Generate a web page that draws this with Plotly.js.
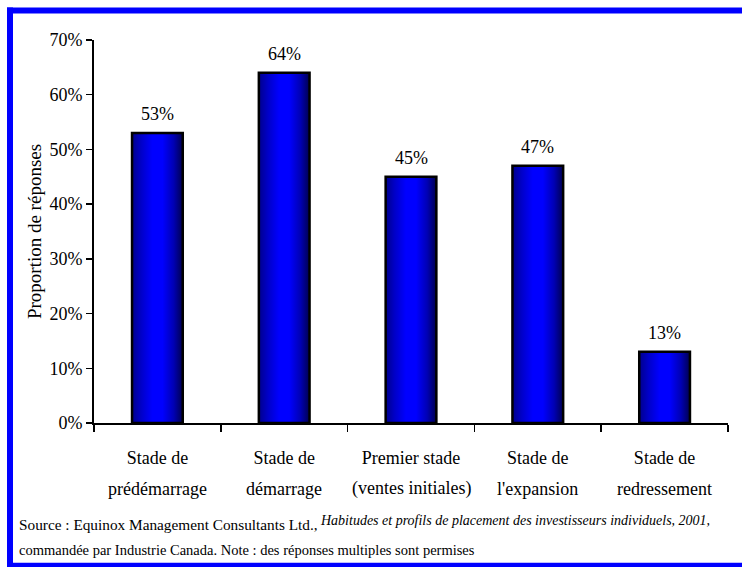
<!DOCTYPE html>
<html>
<head>
<meta charset="utf-8">
<script src="https://cdn.plot.ly/plotly-3.0.1.min.js"></script>
<style>
  html, body { margin: 0; padding: 0; background: #ffffff; overflow: hidden; }
  #chart { width: 742px; height: 567px; }
</style>
</head>
<body>
<div id="chart"></div>
<script>
// ---- data ----
const categories = ["s1", "s2", "s3", "s4", "s5"];
const labelLine1 = ["Stade de", "Stade de", "Premier stade", "Stade de", "Stade de"];
const labelLine2 = ["prédémarrage", "démarrage", "(ventes initiales)", "l'expansion", "redressement"];
const values = [0.53, 0.64, 0.45, 0.47, 0.13];
const yTickValues = [0, 0.1, 0.2, 0.3, 0.4, 0.5, 0.6, 0.7];
const yTickLabels = ["0%", "10%", "20%", "30%", "40%", "50%", "60%", "70%"];
const yTitle = "Proportion de réponses";
const sourceText = "Source : Equinox Management Consultants Ltd.,";
const sourceItalic = "Habitudes et profils de placement des investisseurs individuels, 2001,";
const sourceLine2 = "commandée par Industrie Canada. Note : des réponses multiples sont permises";

// ---- layout geometry (pixels) ----
const W = 742, H = 567;
const M = { l: 94, r: 14, t: 39.5, b: 144 };
const pw = W - M.l - M.r, ph = H - M.t - M.b;
const px = x => (x - M.l) / pw;          // pixel -> paper x
const py = y => (H - M.b - y) / ph;      // pixel -> paper y

const FONT = "'Liberation Serif', 'Times New Roman', 'DejaVu Serif', serif";
const BLUE = "#0000FF";

const trace = {
  type: "bar",
  x: categories,
  y: values,
  marker: { color: BLUE, line: { color: "#000000", width: 2.5 } },
  hoverinfo: "skip",
  cliponaxis: false
};

const valueAnnotations = categories.map((c, i) => ({
  x: c, y: values[i], xref: "x", yref: "y",
  text: Math.round(values[i] * 100) + "%",
  showarrow: false, yanchor: "bottom", yshift: 7,
  font: { family: FONT, size: 18, color: "#000" }
}));

const line2Annotations = categories.map((c, i) => ({
  x: c, y: py(489), xref: "x", yref: "paper",
  text: labelLine2[i],
  showarrow: false, yanchor: "middle",
  font: { family: FONT, size: 18, color: "#000" }
}));

const frameLine = { color: BLUE, width: 6 };

const layout = {
  width: W, height: H,
  margin: M,
  paper_bgcolor: "#ffffff",
  plot_bgcolor: "#ffffff",
  showlegend: false,
  bargap: 0.6,
  font: { family: FONT, size: 18, color: "#000" },
  xaxis: {
    type: "category",
    tickvals: categories,
    ticktext: labelLine1,
    tickangle: 0,
    tickson: "boundaries",
    ticks: "outside", ticklen: 7, tickwidth: 1.5, tickcolor: "#000",
    showline: true, linecolor: "#000", linewidth: 2,
    showgrid: false, zeroline: false,
    ticklabelstandoff: 17,
    tickfont: { family: FONT, size: 18, color: "#000" },
    fixedrange: true
  },
  yaxis: {
    range: [0, 0.7],
    tickvals: yTickValues,
    ticktext: yTickLabels,
    ticks: "outside", ticklen: 6, tickwidth: 1.5, tickcolor: "#000",
    showline: true, linecolor: "#000", linewidth: 2,
    showgrid: false, zeroline: false,
    ticklabelstandoff: 0,
    tickfont: { family: FONT, size: 18, color: "#000" },
    title: { text: yTitle, font: { family: FONT, size: 19, color: "#000" }, standoff: 3 },
    fixedrange: true
  },
  annotations: valueAnnotations.concat(line2Annotations, [
    { xref: "paper", yref: "paper", x: px(17), y: py(525), xanchor: "left", yanchor: "middle",
      text: sourceText, showarrow: false, font: { family: FONT, size: 15.3, color: "#000" } },
    { xref: "paper", yref: "paper", x: px(318), y: py(521), xanchor: "left", yanchor: "middle",
      text: "<i>" + sourceItalic + "</i>", showarrow: false, font: { family: FONT, size: 14, color: "#000" } },
    { xref: "paper", yref: "paper", x: px(17), y: py(550), xanchor: "left", yanchor: "middle",
      text: sourceLine2, showarrow: false, font: { family: FONT, size: 14.5, color: "#000" } }
  ]),
  shapes: [
    { type: "line", xref: "paper", yref: "paper", layer: "below",
      x0: px(7), x1: px(742), y0: py(10), y1: py(10), line: frameLine },
    { type: "line", xref: "paper", yref: "paper", layer: "below",
      x0: px(10), x1: px(10), y0: py(7), y1: py(569), line: frameLine },
    { type: "line", xref: "paper", yref: "paper", layer: "below",
      x0: px(7), x1: px(742), y0: py(566), y1: py(566), line: frameLine }
  ]
};

Plotly.newPlot("chart", [trace], layout, { displayModeBar: false, staticPlot: true }).then(gd => {
  const svg = gd.querySelector("svg.main-svg");
  const ns = "http://www.w3.org/2000/svg";
  let defs = svg.querySelector("defs");
  if (!defs) { defs = document.createElementNS(ns, "defs"); svg.insertBefore(defs, svg.firstChild); }
  const grad = document.createElementNS(ns, "linearGradient");
  grad.setAttribute("id", "barGrad");
  grad.setAttribute("x1", "0"); grad.setAttribute("y1", "0");
  grad.setAttribute("x2", "1"); grad.setAttribute("y2", "0");
  [[0, "#00008C"], [0.18, "#0000C8"], [0.4, "#0000FF"], [0.6, "#0000FF"], [0.82, "#0000B4"], [1, "#000050"]]
    .forEach(([o, c]) => {
      const s = document.createElementNS(ns, "stop");
      s.setAttribute("offset", o); s.setAttribute("stop-color", c);
      grad.appendChild(s);
    });
  defs.appendChild(grad);
  gd.querySelectorAll(".trace.bars .point path").forEach(p => { p.style.fill = "url(#barGrad)"; });
});
</script>
</body>
</html>
